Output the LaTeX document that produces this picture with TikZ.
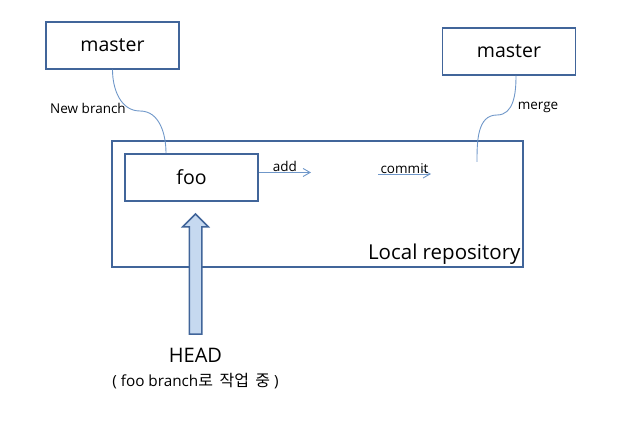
\documentclass[tikz,border=0pt]{standalone}
\usepackage{fontspec}
\setmainfont{Open Sans}
\newfontfamily\krfont[WordSpace=1.8]{Noto Sans CJK KR}
\usetikzlibrary{arrows.meta,positioning,shapes.arrows}
\definecolor{boxblue}{HTML}{41659A}
\definecolor{linkblue}{HTML}{6F97C9}
\definecolor{headfill}{HTML}{C6D9F0}

\begin{document}
\begin{tikzpicture}[x=1pt,y=1pt,>={Straight Barb[length=7pt,width=8pt]},semithick,
    branch/.style={draw=boxblue,line width=1.5pt,minimum width=133pt,minimum height=47pt,
                   font=\fontsize{19.5}{22}\selectfont},
    repo/.style={draw=boxblue,line width=1.5pt,minimum width=411pt,minimum height=126pt},
    link/.style={draw=linkblue,line width=0.9pt},
    tag/.style={font=\fontsize{13.5}{15}\selectfont,inner sep=1pt},
    headarrow/.style={single arrow,draw=boxblue,fill=headfill,line width=1.5pt,
                      minimum height=120pt,inner sep=5.5pt,single arrow head extend=6.5pt,rotate=90}]
    \useasboundingbox (0,0) rectangle (629,433);

    \node[repo] (repo) at (317.5,229) {};
    \node[branch] (master) at (112.5,387.5) {master};
    \node[branch] (newmaster) at (509,381.5) {master};
    \node[branch] (foo) at (191.5,255.5) {foo};
    \node[anchor=south east,inner sep=3pt,font=\fontsize{20.5}{22}\selectfont]
        (repolabel) at (repo.south east) {Local repository};

    \coordinate (branchbend) at (140,322);
    \coordinate (mergebend) at (497,318);
    \coordinate (mergeend) at (477,271);
    \coordinate (addend) at (311,260.5);
    \coordinate (commitstart) at (378,259);
    \coordinate (commitend) at (431,259);

    \draw[link] (master.south) to[out=-90,in=180] (branchbend)
                to[out=0,in=90] ([xshift=-25.5pt]foo.north);
    \draw[link] ([xshift=7pt]newmaster.south) to[out=-90,in=0] (mergebend)
                to[out=180,in=90] (mergeend);
    \node[tag] (branchlabel) at (88,325) {New branch};
    \node[tag] (mergelabel) at (538,326) {merge};

    \draw[link,->] (foo.east |- addend) -- (addend) node[tag,midway,above,inner sep=0.5pt] {add};
    \draw[link,->] (commitstart) -- (commitend) node[tag,midway,above,inner sep=0pt] {commit};

    \node[headarrow,anchor=tip] (headarrow) at (195.5,220) {};
    \node[font=\fontsize{20}{22}\selectfont] (head) at (195.5,78) {HEAD};
    \node[font=\fontsize{15.3}{17}\selectfont] (headnote) [below=3.5pt of head]
        {( foo branch{\krfont\fontsize{16}{17}\selectfont 로 작업 중} )};
\end{tikzpicture}
\end{document}
